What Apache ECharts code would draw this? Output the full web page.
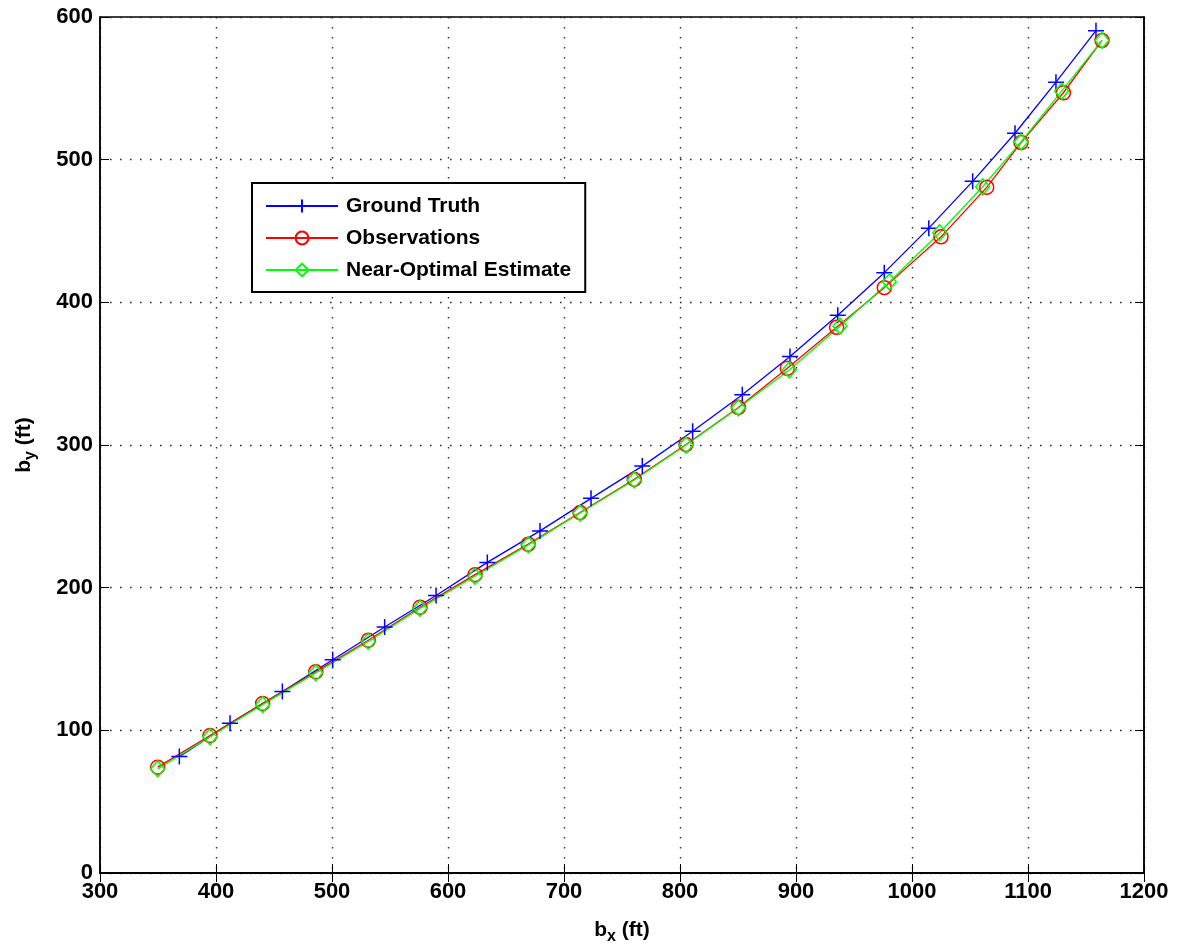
<!DOCTYPE html>
<html>
<head>
<meta charset="utf-8">
<script src="https://cdn.jsdelivr.net/npm/echarts@6/dist/echarts.min.js"></script>
<style>
  html, body { margin: 0; padding: 0; background: #fff; }
  #chart { width: 1182px; height: 950px; }
</style>
</head>
<body>
<div id="chart"></div>
<script>
// Target trajectory b = (b_x, b_y) in feet
const seriesNames = ['Ground Truth', 'Observations', 'Near-Optimal Estimate'];

const truthX = [368.4, 412.1, 457.2, 500.6, 545.4, 589.7, 633.9, 679.3, 723.3, 767.5,
                810.9, 853.7, 894.8, 936.0, 976.1, 1014.5, 1052.3, 1088.8, 1124.1, 1158.6];
const truthY = [81.6, 104.9, 127.2, 149.5, 172.4, 194.5, 217.7, 239.8, 262.6, 285.2,
                309.6, 335.2, 362.0, 391.0, 420.8, 452.0, 484.8, 518.5, 554.3, 590.4];

const obsX = [349.7, 394.8, 440.2, 486.0, 531.3, 575.9, 623.3, 669.2, 713.8, 760.6,
              805.2, 850.3, 892.5, 935.0, 976.1, 1025.0, 1064.4, 1094.0, 1130.5, 1163.8];
const obsY = [74.2, 96.3, 118.8, 141.0, 163.1, 186.3, 209.1, 230.5, 252.6, 275.9,
              300.3, 326.3, 353.8, 382.5, 410.3, 445.9, 480.6, 512.0, 546.9, 583.6];

const estX = [349.7, 394.8, 440.2, 486.0, 531.3, 575.9, 623.3, 669.2, 713.8, 760.6,
              805.2, 850.3, 894.2, 937.9, 980.4, 1023.8, 1060.9, 1094.0, 1129.0, 1163.8];
const estY = [73.0, 95.5, 118.0, 140.3, 162.3, 185.5, 208.0, 230.0, 252.3, 275.5,
              300.0, 326.0, 352.6, 383.3, 414.3, 448.8, 481.0, 512.5, 548.0, 583.6];

const xTicks = [300, 400, 500, 600, 700, 800, 900, 1000, 1100, 1200];
const yTicks = [0, 100, 200, 300, 400, 500, 600];

const pairs = (xs, ys) => xs.map((x, i) => [x, ys[i]]);

const FONT = '"Liberation Sans", Arial, Helvetica, sans-serif';
const plusPath = 'path://M0,5L10,5M5,0L5,10';
const diamondPath = 'path://M5,0L10,5L5,10L0,5Z';

const gridLine = { show: true, lineStyle: { color: '#2a2a2a', width: 1.4, type: [1.6, 8.4] } };
const tickLbl = { fontFamily: FONT, fontWeight: 'bold', fontSize: 22, color: '#000' };

const nameRich = {
  m: { fontFamily: FONT, fontWeight: 'bold', fontSize: 21, color: '#000' },
  s: { fontFamily: FONT, fontWeight: 'bold', fontSize: 16, color: '#000', padding: [14, 0, 0, 0] }
};

function makeSeries(name, xs, ys, color, symbol, size) {
  return {
    name: name,
    type: 'line',
    data: pairs(xs, ys),
    symbol: symbol,
    symbolSize: size,
    showAllSymbol: true,
    lineStyle: { color: color, width: 1.3 },
    itemStyle: { color: 'rgba(0,0,0,0)', borderColor: color, borderWidth: 1.5 },
    emphasis: { disabled: true },
    animation: false,
    z: 3
  };
}

const chart = echarts.init(document.getElementById('chart'), null, { renderer: 'canvas' });

chart.setOption({
  backgroundColor: '#fff',
  animation: false,
  grid: { left: 100, right: 38, top: 17, bottom: 73, show: true, borderColor: '#000', borderWidth: 1.5 },
  legend: {
    data: seriesNames,
    orient: 'vertical',
    left: 252,
    top: 183,
    padding: [12, 14, 11, 13],
    itemWidth: 72,
    itemHeight: 16,
    itemGap: 10,
    borderColor: '#000',
    borderWidth: 2,
    backgroundColor: '#fff',
    textStyle: { fontFamily: FONT, fontWeight: 'bold', fontSize: 21, lineHeight: 22, color: '#000', padding: [0, 0, 0, 3] }
  },
  xAxis: [
    {
      type: 'value', min: 300, max: 1200, interval: 100,
      name: '{m|b}{s|x}{m| (ft)}',
      nameLocation: 'middle', nameGap: 42,
      nameTextStyle: { rich: nameRich },
      axisLine: { show: true, lineStyle: { color: '#000', width: 1.5 } },
      axisTick: { show: true, inside: true, length: 9, lineStyle: { color: '#000', width: 1 } },
      axisLabel: Object.assign({ margin: 8, formatter: v => xTicks.includes(v) ? String(v) : '' }, tickLbl),
      splitLine: gridLine
    },
    {
      type: 'value', min: 300, max: 1200, interval: 100, position: 'top',
      axisLine: { show: true, lineStyle: { color: '#000', width: 1.5 } },
      axisTick: { show: true, inside: true, length: 9, lineStyle: { color: '#000', width: 1 } },
      axisLabel: { show: false },
      splitLine: { show: false }
    }
  ],
  yAxis: [
    {
      type: 'value', min: 0, max: 600, interval: 100,
      name: '{m|b}{s|y}{m| (ft)}',
      nameLocation: 'middle', nameGap: 61, nameRotate: 90,
      nameTextStyle: { rich: nameRich },
      axisLine: { show: true, lineStyle: { color: '#000', width: 1.5 } },
      axisTick: { show: true, inside: true, length: 9, lineStyle: { color: '#000', width: 1 } },
      axisLabel: Object.assign({ margin: 7, formatter: v => yTicks.includes(v) ? String(v) : '' }, tickLbl),
      splitLine: gridLine
    },
    {
      type: 'value', min: 0, max: 600, interval: 100, position: 'right',
      axisLine: { show: true, lineStyle: { color: '#000', width: 1.5 } },
      axisTick: { show: true, inside: true, length: 9, lineStyle: { color: '#000', width: 1 } },
      axisLabel: { show: false },
      splitLine: { show: false }
    }
  ],
  series: [
    makeSeries(seriesNames[0], truthX, truthY, '#0000ff', plusPath, 16),
    makeSeries(seriesNames[1], obsX, obsY, '#ff0000', 'circle', 14),
    makeSeries(seriesNames[2], estX, estY, '#00ff00', diamondPath, [14, 16])
  ]
});
</script>
</body>
</html>
